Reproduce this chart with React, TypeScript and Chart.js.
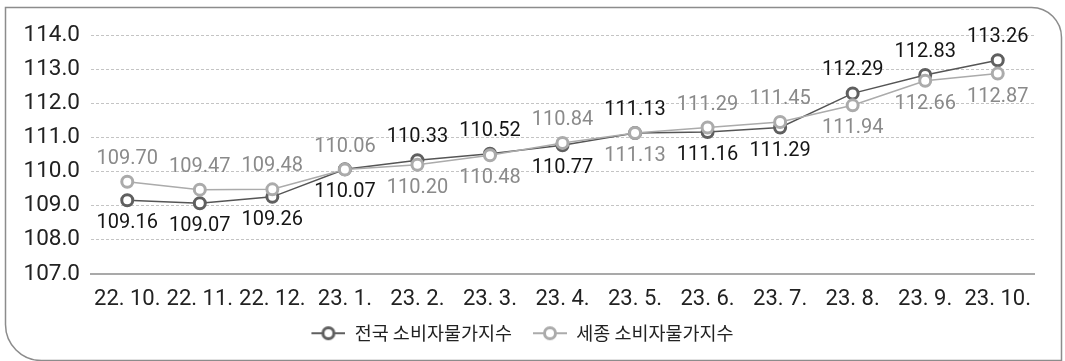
import React, { useEffect, useRef } from "react";
import { Chart, registerables } from "chart.js";

Chart.register(...registerables);

const categories = ["22. 10.", "22. 11.", "22. 12.", "23. 1.", "23. 2.", "23. 3.", "23. 4.", "23. 5.", "23. 6.", "23. 7.", "23. 8.", "23. 9.", "23. 10."];
const nationalValues = [109.16, 109.07, 109.26, 110.07, 110.33, 110.52, 110.77, 111.13, 111.16, 111.29, 112.29, 112.83, 113.26];
const sejongValues = [109.7, 109.47, 109.48, 110.06, 110.2, 110.48, 110.84, 111.13, 111.29, 111.45, 111.94, 112.66, 112.87];
const seriesNames = ["전국 소비자물가지수", "세종 소비자물가지수"];
const yTicks = [107, 108, 109, 110, 111, 112, 113, 114];

// label placement (above / below the point)
const nationalLabelSide = ["below", "below", "below", "below", "above", "above", "below", "above", "below", "below", "above", "above", "above"];
const sejongLabelSide = ["above", "above", "above", "above", "below", "below", "above", "below", "above", "above", "below", "below", "below"];

const NUM_FONT = "Roboto, 'Noto Sans CJK KR', sans-serif";
const KR_FONT = "'Noto Sans CJK KR', Roboto, sans-serif";
const NAT_COLOR = "#5f5f5f";
const SEJ_COLOR = "#ababab";

function makeLegendIcon(color: string): HTMLCanvasElement {
  const c = document.createElement("canvas");
  c.width = 45;
  c.height = 18;
  const ctx = c.getContext("2d")!;
  ctx.strokeStyle = color;
  ctx.lineWidth = 2;
  ctx.beginPath();
  ctx.moveTo(11, 9);
  ctx.lineTo(45, 9);
  ctx.stroke();
  ctx.beginPath();
  ctx.arc(28, 9, 5.5, 0, Math.PI * 2);
  ctx.fillStyle = "#ffffff";
  ctx.fill();
  ctx.lineWidth = 3;
  ctx.stroke();
  return c;
}

const framePlugin = {
  id: "frame",
  beforeDraw(chart: any) {
    const ctx = chart.ctx;
    ctx.save();
    ctx.fillStyle = "#ffffff";
    ctx.fillRect(0, 0, chart.width, chart.height);
    ctx.strokeStyle = "#8c8c8c";
    ctx.lineWidth = 1.5;
    ctx.beginPath();
    const l = 5.5, t = 7.5, r = 1061.5, b = 360.5;
    ctx.moveTo(l, t);
    ctx.lineTo(r - 30, t);
    ctx.arcTo(r, t, r, t + 30, 30);
    ctx.lineTo(r, b);
    ctx.lineTo(l + 36, b);
    ctx.arcTo(l, b, l, b - 36, 36);
    ctx.closePath();
    ctx.stroke();
    ctx.restore();
  },
};

const labelPlugin = {
  id: "pointLabels",
  afterDatasetsDraw(chart: any) {
    const ctx = chart.ctx;
    ctx.save();
    ctx.font = `20px ${NUM_FONT}`;
    ctx.textAlign = "center";
    ctx.textBaseline = "middle";
    chart.data.datasets.forEach((ds: any, di: number) => {
      const meta = chart.getDatasetMeta(di);
      const sides = di === 0 ? nationalLabelSide : sejongLabelSide;
      ctx.fillStyle = di === 0 ? "#151515" : "#8a8a8a";
      meta.data.forEach((pt: any, i: number) => {
        const v = ds.data[i] as number;
        const dy = sides[i] === "above" ? -23 : 23;
        ctx.fillText(v.toFixed(2), pt.x, pt.y + dy);
      });
    });
    ctx.restore();
  },
};

export default function App() {
  const ref = useRef<HTMLCanvasElement | null>(null);

  useEffect(() => {
    document.body.style.margin = "0";
    const canvas = ref.current;
    if (!canvas) return;
    const chart = new Chart(canvas, {
      type: "line",
      data: {
        labels: categories,
        datasets: [
          {
            label: seriesNames[0],
            data: nationalValues,
            borderColor: "#555555",
            borderWidth: 1.5,
            pointBorderColor: NAT_COLOR,
            pointBackgroundColor: "#ffffff",
            pointBorderWidth: 3,
            pointRadius: 5.5,
            pointStyle: "circle",
            tension: 0,
            order: 1,
          } as any,
          {
            label: seriesNames[1],
            data: sejongValues,
            borderColor: SEJ_COLOR,
            borderWidth: 1.5,
            pointBorderColor: SEJ_COLOR,
            pointBackgroundColor: "#ffffff",
            pointBorderWidth: 3,
            pointRadius: 5.5,
            pointStyle: "circle",
            tension: 0,
            order: 0,
          } as any,
        ],
      },
      options: {
        responsive: false,
        animation: false,
        devicePixelRatio: 1,
        layout: { padding: { left: 0, right: 31, top: 35, bottom: 8.5 } },
        plugins: {
          tooltip: { enabled: false },
          legend: {
            display: true,
            position: "bottom",
            labels: {
              usePointStyle: true,
              pointStyleWidth: 45,
              boxHeight: 19,
              padding: 10,
              color: "#222222",
              font: { size: 18.5, family: KR_FONT },
              sort: (a: any, b: any) => a.datasetIndex - b.datasetIndex,
              generateLabels: (chart: any) =>
                chart.data.datasets.map((ds: any, i: number) => ({
                  text: ds.label,
                  datasetIndex: i,
                  pointStyle: makeLegendIcon(i === 0 ? NAT_COLOR : SEJ_COLOR),
                  fillStyle: "transparent",
                  strokeStyle: "transparent",
                  lineWidth: 0,
                  fontColor: "#222222",
                  hidden: false,
                })),
            },
          },
        },
        scales: {
          x: {
            offset: true,
            grid: { display: false, drawTicks: false, offset: true },
            border: { display: true, color: "#a9a9a9", width: 2 },
            ticks: {
              color: "#222222",
              font: { size: 22, family: NUM_FONT },
              padding: 12,
              maxRotation: 0,
              autoSkip: false,
            },
            afterFit: (scale: any) => {
              scale.height = 40;
            },
          },
          y: {
            min: 107,
            max: 114,
            afterBuildTicks: (scale: any) => {
              scale.ticks = yTicks.map((v) => ({ value: v }));
            },
            grid: {
              drawTicks: false,
              color: (ctx: any) => (ctx.tick && ctx.tick.value === 107 ? "rgba(0,0,0,0)" : "#c4c4c4"),
              lineWidth: 1,
            },
            border: { display: false, dash: [3, 2] },
            ticks: {
              color: "#222222",
              font: { size: 22.5, family: NUM_FONT },
              padding: 11,
              callback: (v: any) => Number(v).toFixed(1),
            },
            afterFit: (scale: any) => {
              scale.width = 91;
            },
          },
        },
      },
      plugins: [framePlugin, labelPlugin],
    });
    return () => chart.destroy();
  }, []);

  return (
    <div style={{ width: 1065, height: 361 }}>
      <canvas ref={ref} width={1065} height={361} style={{ display: "block" }} />
    </div>
  );
}
